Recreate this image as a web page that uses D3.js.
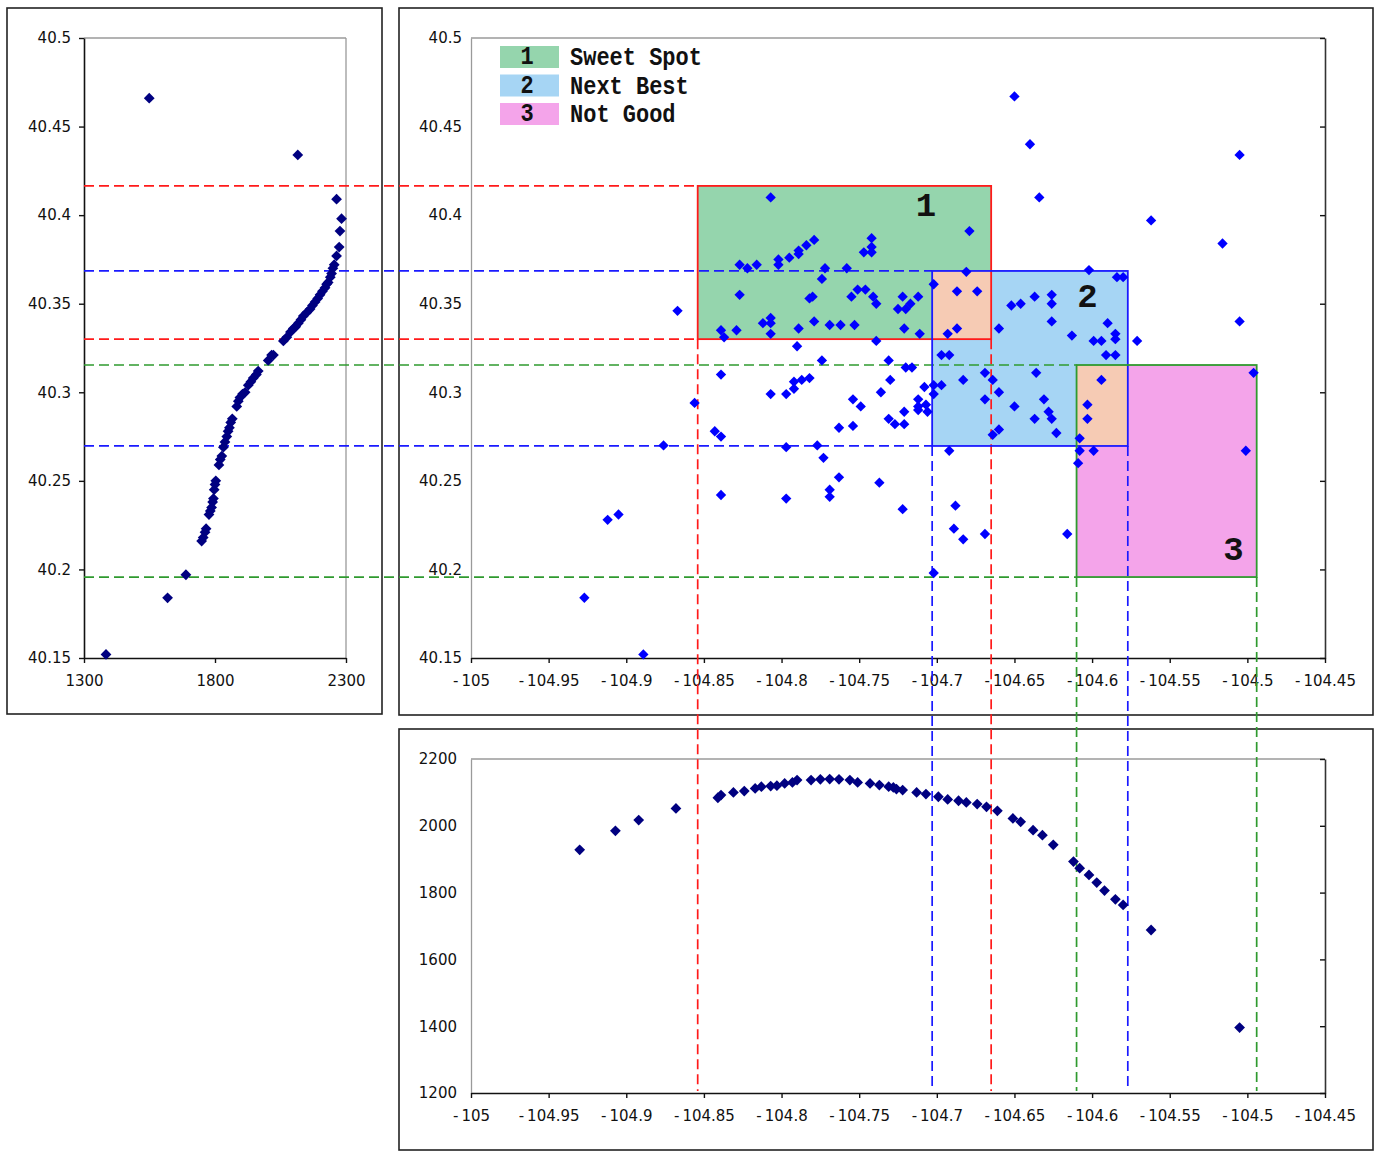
<!DOCTYPE html>
<html><head><meta charset="utf-8">
<script src="https://cdn.jsdelivr.net/npm/d3@7"></script>
<style>body{margin:0;background:#fff}svg{display:block}</style>
</head><body><svg id="c" width="1377" height="1151"></svg>
<script>
// ---------- DATA ----------
const latTicks = [40.15, 40.2, 40.25, 40.3, 40.35, 40.4, 40.45, 40.5];
const lonTicks = [-105, -104.95, -104.9, -104.85, -104.8, -104.75, -104.7, -104.65, -104.6, -104.55, -104.5, -104.45];
const elevTicksBottom = [1200, 1400, 1600, 1800, 2000, 2200];
const elevTicksLeft = [1300, 1800, 2300];

const zoneIds = [1, 2, 3];
const zoneLabels = ["Sweet Spot", "Next Best", "Not Good"];
const zoneWest = [-104.854, -104.703, -104.610];
const zoneEast = [-104.665, -104.577, -104.494];
const zoneSouth = [40.330, 40.2697, 40.1957];
const zoneNorth = [40.4165, 40.3685, 40.3154];
const zoneNumLon = [-104.707, -104.603, -104.509];
const zoneNumLat = [40.4046, 40.3535, 40.2104];

const mainLon = [
-104.807,-104.742,-104.742,-104.747,-104.742,-104.779,-104.784,-104.789,-104.789,-104.795,
-104.802,-104.802,-104.816,-104.827,-104.822,-104.772,-104.758,-104.774,-104.827,-104.782,
-104.780,-104.755,-104.751,-104.746,-104.741,-104.739,-104.722,-104.712,-104.717,-104.725,
-104.720,-104.867,-104.839,-104.837,-104.829,-104.812,-104.807,-104.807,-104.807,-104.789,
-104.779,-104.769,-104.762,-104.753,-104.721,-104.711,-104.739,-104.790,-104.774,-104.731,
-104.839,-104.720,-104.716,-104.792,-104.787,-104.782,-104.792,-104.807,-104.797,-104.730,
-104.708,-104.856,-104.754,-104.749,-104.736,-104.712,-104.712,-104.707,-104.712,-104.706,
-104.721,-104.731,-104.727,-104.721,-104.763,-104.754,-104.843,-104.839,-104.876,-104.797,
-104.777,-104.773,-104.679,
-104.912,-104.905,-104.927,-104.889,-104.839,-104.797,-104.763,-104.769,-104.769,-104.737,-104.722,
-104.516,-104.602,-104.584,-104.580,-104.681,-104.702,-104.687,-104.674,-104.637,-104.626,
-104.626,-104.652,-104.646,-104.505,-104.626,-104.660,-104.613,-104.590,-104.585,-104.585,
-104.599,-104.594,-104.571,-104.591,-104.585,-104.693,-104.687,-104.697,-104.692,-104.702,
-104.697,-104.702,-104.683,-104.669,-104.664,-104.660,-104.636,-104.669,-104.650,-104.631,
-104.637,-104.628,-104.626,-104.623,-104.664,-104.660,-104.594,-104.603,-104.603,-104.608,
-104.608,-104.599,-104.609,-104.496,-104.501,-104.692,-104.688,-104.689,-104.683,-104.669,
-104.616,-104.702,
-104.650,-104.640,-104.505,-104.634,-104.562
];
const mainLat = [
40.410,40.387,40.382,40.379,40.379,40.386,40.383,40.380,40.378,40.376,
40.375,40.372,40.372,40.372,40.370,40.370,40.370,40.364,40.355,40.353,
40.354,40.354,40.358,40.358,40.354,40.350,40.354,40.354,40.350,40.347,
40.347,40.346,40.335,40.331,40.335,40.339,40.342,40.339,40.333,40.336,
40.340,40.338,40.338,40.338,40.336,40.333,40.329,40.326,40.318,40.318,
40.310,40.314,40.314,40.306,40.307,40.308,40.302,40.299,40.299,40.307,
40.303,40.294,40.296,40.292,40.300,40.296,40.292,40.293,40.290,40.289,
40.289,40.285,40.282,40.282,40.280,40.281,40.278,40.275,40.270,40.269,
40.270,40.263,40.391,
40.228,40.231,40.184,40.152,40.242,40.240,40.252,40.245,40.241,40.249,40.234,
40.384,40.369,40.365,40.365,40.368,40.361,40.357,40.357,40.354,40.355,
40.350,40.349,40.350,40.340,40.340,40.336,40.332,40.339,40.333,40.330,
40.329,40.329,40.329,40.321,40.321,40.333,40.336,40.321,40.321,40.304,
40.304,40.299,40.307,40.311,40.307,40.300,40.311,40.296,40.292,40.296,
40.285,40.289,40.285,40.277,40.276,40.279,40.307,40.293,40.285,40.274,
40.267,40.267,40.260,40.311,40.267,40.267,40.236,40.223,40.217,40.220,
40.220,40.198,
40.467,40.440,40.434,40.410,40.397
];

const leftElev = [1549,2116,2264,2283,2277,2274,2264,2255,2250,2245,2240,2232,2226,2220,2210,2201,2192,2182,2172,2163,
2150,2137,2128,2118,2108,2099,2088,2074,2061,2023,2016,2003,1965,1958,1946,1937,1927,1915,1905,1895,
1889,1883,1866,1860,1855,1850,1845,1838,1832,1826,1820,1815,1803,1800,1797,1794,1791,1787,1782,1777,
1766,1762,1755,1749,1689,1619,1384];
const leftLat = [40.466,40.434,40.409,40.398,40.391,40.382,40.377,40.372,40.370,40.367,40.365,40.362,40.361,40.359,40.357,40.355,40.353,40.351,40.349,40.347,
40.345,40.343,40.341,40.339,40.337,40.336,40.334,40.331,40.329,40.321,40.321,40.318,40.312,40.310,40.308,40.306,40.304,40.300,40.299,40.297,
40.295,40.292,40.285,40.283,40.280,40.278,40.275,40.272,40.269,40.264,40.262,40.259,40.250,40.248,40.245,40.240,40.238,40.235,40.233,40.231,
40.223,40.221,40.218,40.216,40.197,40.184,40.152];

const bottomLon = [-104.930,-104.907,-104.892,-104.868,-104.841,-104.839,-104.831,-104.824,-104.817,-104.813,
-104.807,-104.803,-104.798,-104.793,-104.790,-104.781,-104.775,-104.769,-104.763,-104.756,
-104.751,-104.743,-104.737,-104.731,-104.726,-104.728,-104.722,-104.713,-104.707,-104.699,
-104.693,-104.686,-104.681,-104.674,-104.668,-104.661,-104.651,-104.646,-104.638,-104.632,
-104.625,-104.612,-104.608,-104.602,-104.597,-104.592,-104.585,-104.580,-104.562,-104.505];
const bottomElev = [1928,1985,2017,2052,2084,2092,2100,2104,2112,2117,
2119,2120,2127,2130,2137,2137,2139,2140,2139,2137,
2130,2127,2122,2117,2110,2115,2107,2100,2095,2087,
2079,2075,2070,2065,2057,2045,2022,2012,1987,1972,
1943,1893,1873,1853,1830,1806,1780,1763,1688,1396];

// ---------- STYLE ----------
const RED = "#ff1a1a", BLUE = "#1a1aff", GREEN = "#2f9a2f";
const zoneStroke = [RED, BLUE, GREEN];
const zoneFill = ["#95d5ad", "#a6d5f4", "#f4a4ea"];
const overlapFill = "#f6cbb4";
const FONT = "DejaVu Sans";

const svg = d3.select("#c");

// scales
const lonScale = d3.scaleLinear().domain([-105, -104.45]).range([471, 1325]);
const latScale = d3.scaleLinear().domain([40.15, 40.5]).range([658, 38]);
const elevX = d3.scaleLinear().domain([1300, 2300]).range([84, 346]);
const elevY = d3.scaleLinear().domain([1200, 2200]).range([1093, 759]);

const fmtNum = d => String(+d.toFixed(2));

// frames
[[7, 8, 375, 706], [399, 8, 974, 707], [399, 729, 974, 421]].forEach(f => {
  svg.append("rect").attr("x", f[0]).attr("y", f[1]).attr("width", f[2]).attr("height", f[3])
    .attr("fill", "none").attr("stroke", "#222").attr("stroke-width", 1.6);
});

// zone fills
const zg = svg.append("g");
zoneIds.forEach((id, i) => {
  zg.append("rect")
    .attr("x", lonScale(zoneWest[i])).attr("y", latScale(zoneNorth[i]))
    .attr("width", lonScale(zoneEast[i]) - lonScale(zoneWest[i]))
    .attr("height", latScale(zoneSouth[i]) - latScale(zoneNorth[i]))
    .attr("fill", zoneFill[i]);
});
// overlaps between consecutive zones
for (let i = 0; i < zoneIds.length - 1; i++) {
  const w = Math.max(zoneWest[i], zoneWest[i + 1]), e = Math.min(zoneEast[i], zoneEast[i + 1]);
  const s = Math.max(zoneSouth[i], zoneSouth[i + 1]), n = Math.min(zoneNorth[i], zoneNorth[i + 1]);
  zg.append("rect").attr("x", lonScale(w)).attr("y", latScale(n))
    .attr("width", lonScale(e) - lonScale(w)).attr("height", latScale(s) - latScale(n))
    .attr("fill", overlapFill);
}

function styleAxis(g, domainColor, domainWidth) {
  g.attr("font-family", FONT).attr("font-size", 15);
  g.select(".domain").attr("stroke", domainColor).attr("stroke-width", domainWidth);
  g.selectAll(".tick line").attr("stroke", "#111").attr("stroke-width", 1.4);
  g.selectAll(".tick text").attr("fill", "#111");
}
function splitMinus(g) {
  g.selectAll(".tick text").each(function (d) {
    const s = fmtNum(d);
    const t = d3.select(this);
    t.text(null);
    t.append("tspan").text("-");
    t.append("tspan").attr("dx", 3).text(s.slice(1));
  });
}
function grayLine(x1, y1, x2, y2) {
  svg.append("line").attr("x1", x1).attr("y1", y1).attr("x2", x2).attr("y2", y2)
    .attr("stroke", "#9a9a9a").attr("stroke-width", 1.3);
}

// ---- left panel axes ----
grayLine(84, 38, 346, 38);
grayLine(346, 38, 346, 658);
svg.append("g").attr("transform", "translate(84,0)")
  .call(d3.axisLeft(latScale).tickValues(latTicks).tickSize(5).tickSizeOuter(0).tickPadding(8).tickFormat(fmtNum))
  .call(g => styleAxis(g, "#111", 1.6));
svg.append("g").attr("transform", "translate(0,658)")
  .call(d3.axisBottom(elevX).tickValues(elevTicksLeft).tickSize(5).tickSizeOuter(0).tickPadding(12).tickFormat(d3.format("d")))
  .call(g => styleAxis(g, "#111", 1.6));

// ---- main panel axes ----
grayLine(471, 38, 1325, 38);
svg.append("g").attr("transform", "translate(471,0)")
  .call(d3.axisLeft(latScale).tickValues(latTicks).tickSize(0).tickSizeOuter(0).tickPadding(9).tickFormat(fmtNum))
  .call(g => styleAxis(g, "#9a9a9a", 1.3));
svg.append("g").attr("transform", "translate(1325,0)")
  .call(d3.axisLeft(latScale).tickValues(latTicks).tickSize(5).tickSizeOuter(0).tickFormat(""))
  .call(g => styleAxis(g, "#333", 1.6));
svg.append("g").attr("transform", "translate(0,658)")
  .call(d3.axisBottom(lonScale).tickValues(lonTicks).tickSize(5).tickSizeOuter(0).tickPadding(12).tickFormat(fmtNum))
  .call(g => styleAxis(g, "#111", 1.6)).call(splitMinus);

// ---- bottom panel axes ----
grayLine(471, 759, 1325, 759);
svg.append("g").attr("transform", "translate(471,0)")
  .call(d3.axisLeft(elevY).tickValues(elevTicksBottom).tickSize(0).tickSizeOuter(0).tickPadding(14).tickFormat(d3.format("d")))
  .call(g => styleAxis(g, "#9a9a9a", 1.3));
svg.append("g").attr("transform", "translate(1325,0)")
  .call(d3.axisLeft(elevY).tickValues(elevTicksBottom).tickSize(5).tickSizeOuter(0).tickFormat(""))
  .call(g => styleAxis(g, "#333", 1.6));
svg.append("g").attr("transform", "translate(0,1093)")
  .call(d3.axisBottom(lonScale).tickValues(lonTicks).tickSize(5).tickSizeOuter(0).tickPadding(12).tickFormat(fmtNum))
  .call(g => styleAxis(g, "#111", 1.6)).call(splitMinus);

// ---- dashed guide lines ----
const dg = svg.append("g").attr("fill", "none").attr("stroke-width", 1.7).attr("stroke-dasharray", "10,5");
zoneIds.forEach((id, i) => {
  const xStart = elevX.range()[0];
  [zoneNorth[i], zoneSouth[i]].forEach(lat => {
    dg.append("line").attr("x1", xStart).attr("x2", lonScale(zoneWest[i]))
      .attr("y1", latScale(lat)).attr("y2", latScale(lat)).attr("stroke", zoneStroke[i]);
  });
  [zoneWest[i], zoneEast[i]].forEach(lon => {
    dg.append("line").attr("x1", lonScale(lon)).attr("x2", lonScale(lon))
      .attr("y1", latScale(zoneSouth[i])).attr("y2", elevY(1200) - 2).attr("stroke", zoneStroke[i]);
  });
});

// zone borders
zoneIds.forEach((id, i) => {
  svg.append("rect")
    .attr("x", lonScale(zoneWest[i])).attr("y", latScale(zoneNorth[i]))
    .attr("width", lonScale(zoneEast[i]) - lonScale(zoneWest[i]))
    .attr("height", latScale(zoneSouth[i]) - latScale(zoneNorth[i]))
    .attr("fill", "none").attr("stroke", zoneStroke[i]).attr("stroke-width", 1.8);
});

// ---- points ----
const diamondMain = d3.symbol().type(d3.symbolDiamond2).size(68)();
const diamondSide = d3.symbol().type(d3.symbolDiamond2).size(74)();

svg.append("g").selectAll("path").data(d3.range(mainLon.length)).join("path")
  .attr("d", diamondMain).attr("fill", "#0000ff")
  .attr("transform", i => `translate(${lonScale(mainLon[i])},${latScale(mainLat[i])})`);

svg.append("g").selectAll("path").data(d3.range(leftElev.length)).join("path")
  .attr("d", diamondSide).attr("fill", "#000080")
  .attr("transform", i => `translate(${elevX(leftElev[i])},${latScale(leftLat[i])})`);

svg.append("g").selectAll("path").data(d3.range(bottomLon.length)).join("path")
  .attr("d", diamondSide).attr("fill", "#000080")
  .attr("transform", i => `translate(${lonScale(bottomLon[i])},${elevY(bottomElev[i])})`);

// zone numbers
zoneIds.forEach((id, i) => {
  svg.append("text").attr("x", lonScale(zoneNumLon[i])).attr("y", latScale(zoneNumLat[i]))
    .attr("text-anchor", "middle").attr("dominant-baseline", "central")
    .attr("font-family", "Liberation Mono").attr("font-weight", "bold").attr("font-size", 34)
    .attr("fill", "#111").text(id);
});

// ---- legend ----
const lg = svg.append("g");
zoneIds.forEach((id, i) => {
  const top = 46 + i * 28.5;
  lg.append("rect").attr("x", 500).attr("y", top).attr("width", 59).attr("height", 22).attr("fill", zoneFill[i]);
  lg.append("text").attr("transform", `translate(527,${top + 18}) scale(1,1.2)`).attr("text-anchor", "middle")
    .attr("font-family", "Liberation Mono").attr("font-weight", "bold").attr("font-size", 22).attr("fill", "#111").text(id);
  lg.append("text").attr("transform", `translate(570,${top + 19}) scale(1,1.2)`)
    .attr("font-family", "Liberation Mono").attr("font-weight", "bold").attr("font-size", 22).attr("fill", "#111")
    .text(zoneLabels[i]);
});
</script>
</body></html>
